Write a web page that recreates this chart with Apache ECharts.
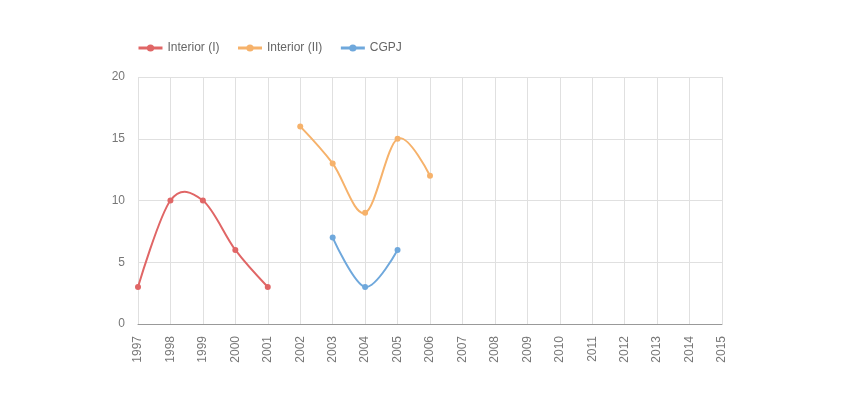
<!DOCTYPE html>
<html>
<head>
<meta charset="utf-8">
<script src="https://cdn.jsdelivr.net/npm/echarts@6/dist/echarts.min.js"></script>
<style>
html, body { margin: 0; padding: 0; background: #fff; }
#main { width: 860px; height: 402px; }
</style>
</head>
<body>
<div id="main"></div>
<script>
var years = ['1997','1998','1999','2000','2001','2002','2003','2004','2005','2006','2007','2008','2009','2010','2011','2012','2013','2014','2015'];
var interior1 = [3, 10, 10, 6, 3, null, null, null, null, null, null, null, null, null, null, null, null, null, null];
var interior2 = [null, null, null, null, null, 16, 13, 9, 15, 12, null, null, null, null, null, null, null, null, null];
var cgpj = [null, null, null, null, null, null, 7, 3, 6, null, null, null, null, null, null, null, null, null, null];
var yTicks = { min: 0, max: 20, interval: 5 };

var colors = ['#e06666', '#f6b26b', '#6fa8dc'];
var names = ['Interior (I)', 'Interior (II)', 'CGPJ'];

var myChart = echarts.init(document.getElementById('main'));

// cardinal spline (tension 0, like catmull-rom uniform) through the points of one series
function curveRenderer(values, color) {
    return function (params, api) {
        var pts = [];
        for (var i = 0; i < values.length; i++) {
            if (values[i] != null) pts.push(api.coord([i, values[i]]));
        }
        var k = 1 / 6;
        var children = [];
        for (var j = 0; j < pts.length - 1; j++) {
            var p0 = pts[j - 1] || pts[j + 1], p1 = pts[j], p2 = pts[j + 1], p3 = pts[j + 2] || pts[j];
            // endpoints: control point sits on the point itself
            var c1 = j === 0 ? p1 : [p1[0] + k * (p2[0] - p0[0]), p1[1] + k * (p2[1] - p0[1])];
            var c2 = j === pts.length - 2 ? p2 : [p2[0] - k * (p3[0] - p1[0]), p2[1] - k * (p3[1] - p1[1])];
            children.push({
                type: 'bezierCurve',
                shape: {
                    x1: p1[0], y1: p1[1],
                    x2: p2[0], y2: p2[1],
                    cpx1: c1[0], cpy1: c1[1],
                    cpx2: c2[0], cpy2: c2[1]
                },
                style: { stroke: color, lineWidth: 2, fill: null }
            });
        }
        return { type: 'group', children: children };
    };
}

function pointSeries(name, data, color) {
    return {
        name: name,
        type: 'line',
        data: data,
        symbol: 'circle',
        symbolSize: 6,
        showSymbol: true,
        z: 3,
        itemStyle: { color: color },
        lineStyle: { color: color, width: 2, opacity: 0 }
    };
}
function curveSeries(name, data, color) {
    return {
        name: name,
        type: 'custom',
        data: [[0]],
        z: 2,
        silent: true,
        renderItem: curveRenderer(data, color)
    };
}

var option = {
    animation: false,
    textStyle: { fontFamily: 'Arial, Liberation Sans, sans-serif' },
    legend: {
        left: 132,
        top: 37,
        itemWidth: 24,
        itemHeight: 9,
        itemGap: 17,
        textStyle: { color: '#666', fontSize: 12 },
        data: names.map(function (n, i) {
            return { name: n, itemStyle: { color: colors[i] }, lineStyle: { color: colors[i], width: 3, opacity: 1 } };
        })
    },
    grid: { left: 138, right: 138, top: 77, bottom: 78, containLabel: false },
    xAxis: {
        type: 'category',
        data: years,
        boundaryGap: false,
        axisLine: { lineStyle: { color: '#999' } },
        axisTick: { show: false },
        axisLabel: { rotate: 90, color: '#777', fontSize: 12, margin: 12, interval: 0 },
        splitLine: { show: true, lineStyle: { color: '#e0e0e0' } }
    },
    yAxis: {
        type: 'value',
        min: yTicks.min,
        max: yTicks.max,
        interval: yTicks.interval,
        axisLine: { show: false },
        axisTick: { show: false },
        axisLabel: { color: '#777', fontSize: 12, margin: 13 },
        splitLine: { lineStyle: { color: '#e0e0e0' } }
    },
    series: [
        pointSeries(names[0], interior1, colors[0]),
        pointSeries(names[1], interior2, colors[1]),
        pointSeries(names[2], cgpj, colors[2]),
        curveSeries(names[0], interior1, colors[0]),
        curveSeries(names[1], interior2, colors[1]),
        curveSeries(names[2], cgpj, colors[2])
    ]
};
myChart.setOption(option);
</script>
</body>
</html>
